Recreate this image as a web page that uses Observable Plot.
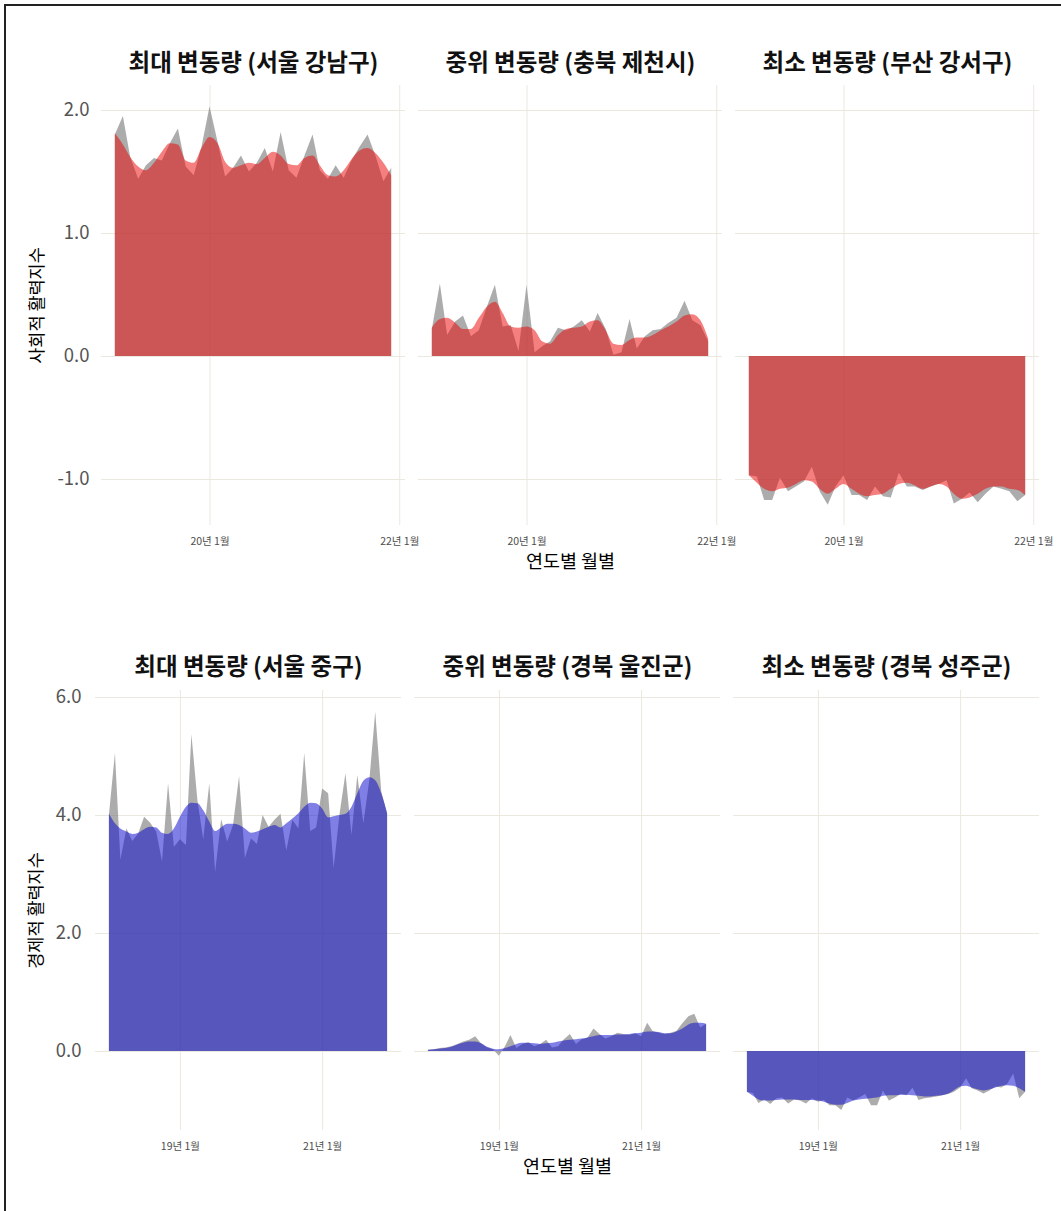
<!DOCTYPE html>
<html><head><meta charset="utf-8">
<script src="https://cdn.jsdelivr.net/npm/d3@7"></script>
<script src="https://cdn.jsdelivr.net/npm/@observablehq/plot@0.6"></script>
<style>
body{margin:0;background:#fff;font-family:"Noto Sans CJK KR","Noto Sans",sans-serif;}
#wrap{position:relative;width:1061px;height:1211px;overflow:hidden;}
#frame{position:absolute;left:4px;top:4px;right:-10px;bottom:-10px;border-left:2px solid #222;border-top:2px solid #222;pointer-events:none;z-index:5}
.row svg{display:block}
svg text{font-family:"Noto Sans CJK KR","Noto Sans",sans-serif}
g[aria-label="y-axis label"]{fill:#000}
g[aria-label="y-axis label"] text{fill:#000;font-size:17.5px}
</style>
</head><body><div id="wrap"><div id="frame"></div><div class="row" id="top"></div><div class="row" id="bottom"></div></div>
<script>
// ---------- categories ----------
const socialPanels = ["최대 변동량 (서울 강남구)", "중위 변동량 (충북 제천시)", "최소 변동량 (부산 강서구)"];
const economicPanels = ["최대 변동량 (서울 중구)", "중위 변동량 (경북 울진군)", "최소 변동량 (경북 성주군)"];
const socialStart = "2019-01-01", socialEnd = "2021-12-01";
const economicStart = "2018-01-01", economicEnd = "2021-12-01";
const socialTicksX = ["2020-01-01", "2022-01-01"];
const economicTicksX = ["2019-01-01", "2021-01-01"];
const socialTicksY = [-1, 0, 1, 2];
const economicTicksY = [0, 2, 4, 6];
const socialYLabel = "사회적 활력지수";
const economicYLabel = "경제적 활력지수";
const xTitle = "연도별 월별";

// ---------- social (top row) values, monthly ----------
const gangnamRaw = [1.80,1.95,1.62,1.44,1.55,1.61,1.59,1.73,1.85,1.54,1.47,1.70,2.03,1.74,1.46,1.53,1.63,1.50,1.57,1.69,1.50,1.82,1.51,1.45,1.63,1.80,1.51,1.44,1.55,1.45,1.59,1.70,1.80,1.63,1.42,1.53];
const gangnamSmooth = [1.81,1.72,1.62,1.54,1.51,1.57,1.66,1.73,1.72,1.59,1.57,1.69,1.78,1.73,1.58,1.53,1.55,1.57,1.56,1.61,1.66,1.63,1.56,1.55,1.61,1.63,1.55,1.47,1.46,1.51,1.60,1.67,1.69,1.65,1.57,1.47];
const jecheonRaw = [0.22,0.59,0.17,0.28,0.33,0.16,0.21,0.40,0.58,0.24,0.25,0.04,0.58,0.03,0.08,0.12,0.23,0.21,0.24,0.29,0.20,0.35,0.22,0.01,0.03,0.30,0.06,0.16,0.21,0.22,0.27,0.31,0.45,0.29,0.25,0.12];
const jecheonSmooth = [0.23,0.30,0.31,0.27,0.22,0.22,0.31,0.40,0.44,0.35,0.24,0.23,0.24,0.21,0.12,0.10,0.17,0.22,0.23,0.24,0.28,0.29,0.21,0.10,0.09,0.13,0.15,0.15,0.17,0.21,0.24,0.28,0.33,0.34,0.29,0.14];
const gangseoRaw = [-0.97,-0.98,-1.17,-1.17,-0.99,-1.10,-1.06,-1.02,-0.90,-1.10,-1.21,-1.06,-0.97,-1.13,-1.13,-1.17,-1.06,-1.14,-1.15,-0.95,-1.06,-1.06,-1.09,-1.06,-1.04,-1.01,-1.20,-1.16,-1.11,-1.19,-1.12,-1.06,-1.08,-1.10,-1.18,-1.13];
const gangseoSmooth = [-0.97,-1.03,-1.08,-1.10,-1.08,-1.07,-1.04,-1.01,-1.02,-1.08,-1.12,-1.08,-1.04,-1.08,-1.12,-1.14,-1.13,-1.12,-1.08,-1.04,-1.03,-1.05,-1.08,-1.06,-1.04,-1.06,-1.12,-1.16,-1.15,-1.12,-1.08,-1.06,-1.06,-1.08,-1.09,-1.13];

// ---------- economic (bottom row) values, monthly ----------
const jungguRaw = [4.00,5.05,3.24,3.77,3.56,3.69,3.97,3.87,3.72,3.21,4.54,3.46,3.59,3.49,5.37,4.25,3.59,4.54,3.04,3.93,3.55,3.83,4.66,3.27,3.60,3.51,4.00,3.80,3.92,4.02,3.40,3.92,3.77,5.05,3.73,3.79,4.45,4.37,3.10,4.03,4.71,3.66,4.68,3.86,4.60,5.75,4.40,4.03];
const jungguSmooth = [4.02,3.86,3.77,3.72,3.68,3.70,3.76,3.80,3.79,3.70,3.68,3.77,3.97,4.14,4.21,4.20,4.08,3.89,3.73,3.79,3.85,3.85,3.83,3.77,3.70,3.72,3.76,3.80,3.83,3.79,3.86,3.94,4.03,4.14,4.21,4.20,4.11,3.96,3.98,4.00,4.02,4.14,4.37,4.58,4.64,4.59,4.37,4.03];
const uljinRaw = [0.02,0.03,0.05,0.06,0.08,0.12,0.16,0.19,0.25,0.13,0.06,0.03,-0.08,0.08,0.27,0.05,0.12,0.15,0.08,0.12,0.19,0.06,0.08,0.20,0.29,0.12,0.20,0.23,0.38,0.29,0.21,0.25,0.31,0.29,0.27,0.30,0.25,0.48,0.34,0.31,0.29,0.31,0.34,0.47,0.59,0.63,0.40,0.46];
const uljinSmooth = [0.02,0.03,0.04,0.05,0.07,0.11,0.14,0.16,0.16,0.13,0.07,0.04,0.03,0.05,0.08,0.12,0.14,0.14,0.13,0.12,0.13,0.14,0.16,0.18,0.19,0.20,0.21,0.23,0.25,0.27,0.27,0.27,0.28,0.28,0.29,0.30,0.31,0.33,0.33,0.32,0.30,0.30,0.33,0.38,0.45,0.48,0.48,0.46];
const seongjuRaw = [-0.69,-0.71,-0.88,-0.82,-0.90,-0.80,-0.79,-0.89,-0.82,-0.84,-0.89,-0.80,-0.86,-0.83,-0.92,-0.92,-1.00,-0.79,-0.84,-0.79,-0.73,-0.92,-0.92,-0.67,-0.84,-0.79,-0.73,-0.75,-0.62,-0.83,-0.80,-0.79,-0.77,-0.75,-0.73,-0.69,-0.62,-0.46,-0.63,-0.67,-0.72,-0.67,-0.60,-0.62,-0.55,-0.38,-0.80,-0.69];
const seongjuSmooth = [-0.69,-0.76,-0.82,-0.84,-0.84,-0.83,-0.82,-0.82,-0.82,-0.83,-0.83,-0.83,-0.84,-0.86,-0.89,-0.91,-0.91,-0.88,-0.84,-0.82,-0.81,-0.80,-0.79,-0.76,-0.75,-0.75,-0.74,-0.74,-0.75,-0.76,-0.77,-0.77,-0.76,-0.75,-0.72,-0.66,-0.60,-0.59,-0.62,-0.65,-0.67,-0.65,-0.62,-0.59,-0.58,-0.59,-0.63,-0.69];

const FONT = '"Noto Sans CJK KR","Noto Sans",sans-serif';
const GRID = "#ebe8df";

function monthsBetween(a, b) {
  const s = new Date(a), e = new Date(b);
  return d3.utcMonth.range(s, d3.utcMonth.offset(e, 1));
}
function fmtMonth(d) {
  return `${String(d.getUTCFullYear()).slice(2)}년 ${d.getUTCMonth() + 1}월`;
}

function makeRow(o) {
  const months = monthsBetween(o.start, o.end);
  const data = [];
  o.panels.forEach((p, k) => months.forEach((m, i) => data.push({panel: p, date: m, raw: o.raws[k][i], smooth: o.smooths[k][i]})));
  const [d0, d1] = d3.extent(months);
  const pad = (d1 - d0) * 0.05;
  const xTicks = o.xTicks.map(s => new Date(s));
  return Plot.plot({
    width: 1061, height: o.height,
    marginTop: o.marginTop, marginBottom: o.marginBottom, marginLeft: o.marginLeft, marginRight: 21,
    style: {fontFamily: FONT, background: "transparent", overflow: "visible"},
    fx: {domain: o.panels, paddingInner: o.paddingInner, paddingOuter: 0},
    x: {type: "utc", domain: [new Date(+d0 - pad), new Date(+d1 + pad)]},
    y: {domain: o.yDomain},
    marks: [
      Plot.gridY(o.yTicks, {stroke: GRID, strokeOpacity: 1, strokeWidth: 1}),
      Plot.gridX(xTicks, {stroke: GRID, strokeOpacity: 1, strokeWidth: 1}),
      Plot.areaY(data, {fx: "panel", x: "date", y: "raw", fill: "#7f7f7f", fillOpacity: 0.65}),
      Plot.areaY(data, {fx: "panel", x: "date", y: "smooth", fill: o.fill, fillOpacity: 0.5, curve: "monotone-x"}),
      Plot.axisY(o.yTicks, {tickSize: 0, tickPadding: o.yPad, tickFormat: d => d.toFixed(1), fontSize: 18.5, color: "#555",
        label: o.yLabel, labelAnchor: "center", labelOffset: o.labelOffset, labelArrow: "none"}),
      Plot.axisX(xTicks, {tickSize: 0, tickPadding: 12, tickFormat: fmtMonth, fontSize: 10.5, color: "#4d4d4d", label: null}),
      Plot.axisFx({anchor: "top", tickSize: 0, tickPadding: o.titlePad, fontSize: 23.5, fontWeight: "bold", color: "#111", label: null}),
      Plot.text([{panel: o.panels[1]}], {fx: "panel", frameAnchor: "bottom", dy: 42, text: () => xTitle, fontSize: 18.5, fill: "#000"})
    ]
  });
}

document.getElementById("top").append(makeRow({
  panels: socialPanels, start: socialStart, end: socialEnd,
  raws: [gangnamRaw, jecheonRaw, gangseoRaw], smooths: [gangnamSmooth, jecheonSmooth, gangseoSmooth],
  xTicks: socialTicksX, yTicks: socialTicksY, yDomain: [-1.374, 2.203], yLabel: socialYLabel,
  fill: "#ec0000", height: 600, marginTop: 85, marginBottom: 75, marginLeft: 100,
  paddingInner: 0.0425, yPad: 12, labelOffset: 71, titlePad: 15
}));
document.getElementById("bottom").append(makeRow({
  panels: economicPanels, start: economicStart, end: economicEnd,
  raws: [jungguRaw, uljinRaw, seongjuRaw], smooths: [jungguSmooth, uljinSmooth, seongjuSmooth],
  xTicks: economicTicksX, yTicks: economicTicksY, yDomain: [-1.339, 6.119], yLabel: economicYLabel,
  fill: "#0000cd", height: 611, marginTop: 90, marginBottom: 81, marginLeft: 95,
  paddingInner: 0.0407, yPad: 14, labelOffset: 66, titlePad: 16
}));
</script>
</body></html>
